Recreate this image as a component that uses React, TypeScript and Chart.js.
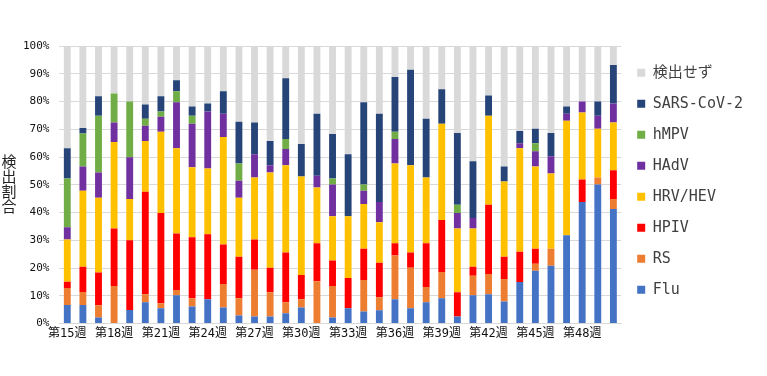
import React, { useEffect, useRef } from 'react';
import { Chart, registerables } from 'chart.js';

Chart.register(...registerables);

const categories = [
  '第15週', '第16週', '第17週', '第18週', '第19週', '第20週', '第21週', '第22週', '第23週',
  '第24週', '第25週', '第26週', '第27週', '第28週', '第29週', '第30週', '第31週', '第32週',
  '第33週', '第34週', '第35週', '第36週', '第37週', '第38週', '第39週', '第40週', '第41週',
  '第42週', '第43週', '第44週', '第45週', '第46週', '第47週', '第48週', '第49週', '第50週',
];

const flu = [6.7, 6.7, 2.2, 0, 4.9, 7.7, 5.5, 10.2, 6.2, 8.8, 5.8, 2.9, 2.6, 2.6, 3.7, 5.8, 0, 2.2, 5.5, 4.4, 4.8, 8.8, 5.5, 7.7, 9.1, 2.6, 10.2, 10.6, 8.0, 15.0, 19.0, 20.8, 31.8, 43.8, 50.1, 41.3];
const rs = [6.1, 4.7, 4.4, 13.5, 0, 2.9, 1.8, 1.9, 2.9, 0, 8.5, 6.2, 16.8, 8.7, 4.0, 3.0, 15.3, 11.3, 0, 11.3, 4.7, 15.7, 14.6, 5.5, 9.5, 0, 7.0, 7.3, 8.1, 0, 2.6, 6.2, 0, 0, 2.5, 3.6];
const hpiv = [2.3, 9.1, 11.8, 20.8, 25.1, 36.9, 32.5, 20.4, 22.0, 23.4, 14.2, 15.0, 10.9, 8.8, 17.9, 8.7, 13.6, 9.2, 10.9, 11.3, 12.4, 4.4, 5.5, 15.7, 18.7, 8.7, 3.3, 24.9, 8.0, 10.9, 5.4, 0, 0, 8.1, 0, 10.3];
const hrvHev = [15.2, 27.4, 26.9, 31.1, 14.9, 18.3, 29.3, 30.7, 25.2, 23.7, 38.7, 21.2, 22.3, 34.3, 31.4, 35.5, 20.1, 16.0, 22.3, 16.1, 14.6, 28.8, 31.4, 23.7, 34.7, 23.0, 13.8, 32.1, 27.1, 37.3, 29.6, 27.1, 41.3, 24.1, 17.6, 17.2];
const hadv = [4.4, 8.7, 9.1, 7.0, 15.0, 5.5, 5.4, 16.5, 15.7, 20.5, 8.4, 6.2, 8.4, 2.6, 5.9, 0, 4.3, 11.4, 0, 4.8, 7.3, 8.8, 0, 0, 0, 5.5, 3.7, 0, 0, 1.8, 5.5, 6.2, 2.5, 4.0, 4.7, 6.9];
const hmpv = [17.6, 11.9, 20.5, 10.5, 20.1, 2.5, 1.9, 4.0, 2.9, 0, 0, 6.2, 0, 0, 3.6, 0, 0, 2.2, 0, 2.2, 0, 2.6, 0, 0, 0, 3.0, 0, 0, 0, 0, 2.9, 0, 0, 0, 0, 0];
const sarsCov2 = [10.9, 2.0, 7.0, 0, 0, 5.1, 5.5, 4.0, 3.3, 2.9, 8.1, 15.0, 11.4, 8.8, 21.9, 11.7, 22.3, 16.0, 22.3, 29.6, 31.8, 19.7, 34.4, 21.2, 12.4, 25.9, 20.5, 7.3, 5.4, 4.4, 5.2, 8.4, 2.6, 0, 5.1, 13.9];
const notDetected = [36.8, 29.5, 18.1, 17.1, 20.0, 21.1, 18.1, 12.3, 21.8, 20.7, 16.3, 27.3, 27.6, 34.2, 11.6, 35.3, 24.4, 31.7, 39.0, 20.3, 24.4, 11.2, 8.6, 26.2, 15.6, 31.3, 41.5, 17.8, 43.4, 30.6, 29.8, 31.3, 21.8, 20.0, 20.0, 6.8];

const seriesNames = ['Flu', 'RS', 'HPIV', 'HRV/HEV', 'HAdV', 'hMPV', 'SARS-CoV-2', '検出せず'];
const seriesColors = ['#4472C4', '#ED7D31', '#FF0000', '#FFC000', '#7030A0', '#70AD47', '#264478', '#D9D9D9'];
const seriesValues = [flu, rs, hpiv, hrvHev, hadv, hmpv, sarsCov2, notDetected];

const yTicks = [0, 10, 20, 30, 40, 50, 60, 70, 80, 90, 100];
const yTitle = '検出割合';

const MONO = '"DejaVu Sans Mono", "Noto Sans CJK JP", monospace';

const yTitlePlugin = {
  id: 'yTitleStacked',
  afterDraw(chart: any) {
    const { ctx, chartArea } = chart;
    ctx.save();
    ctx.font = '15px "Noto Sans CJK JP"';
    ctx.fillStyle = '#222';
    ctx.textAlign = 'center';
    ctx.textBaseline = 'middle';
    const chars = Array.from(yTitle);
    const cy = (chartArea.top + chartArea.bottom) / 2 - 1;
    const step = 15;
    chars.forEach((c, i) => {
      ctx.fillText(c, 9, cy + (i - (chars.length - 1) / 2) * step);
    });
    ctx.restore();
  },
};

export default function App() {
  const ref = useRef<HTMLCanvasElement | null>(null);

  useEffect(() => {
    if (!ref.current) return;
    const chart = new Chart(ref.current, {
      type: 'bar',
      data: {
        labels: categories,
        datasets: seriesNames.map((name, i) => ({
          label: name,
          data: seriesValues[i],
          backgroundColor: seriesColors[i],
          borderWidth: 0,
          barPercentage: 0.44,
          categoryPercentage: 1,
        })),
      },
      options: {
        animation: false,
        responsive: false,
        layout: { padding: { left: 13, right: 14, top: 46, bottom: 32 } },
        plugins: {
          tooltip: { enabled: false },
          legend: {
            position: 'right',
            align: 'start',
            reverse: true,
            title: { display: true, text: ' ', font: { size: 1 }, padding: 1 },
            labels: {
              boxWidth: 8,
              boxHeight: 8,
              padding: 16,
              color: '#404040',
              font: { family: MONO, size: 15 },
            },
          },
        },
        scales: {
          x: {
            stacked: true,
            grid: { display: false, drawTicks: false },
            border: { display: true, color: '#D9D9D9', width: 1 },
            ticks: {
              autoSkip: false,
              maxRotation: 0,
              minRotation: 0,
              padding: 3,
              color: '#111',
              font: { family: MONO, size: 12 },
              callback: (_v: any, i: number) => (i % 3 === 0 ? categories[i] : ''),
            },
          },
          y: {
            stacked: true,
            min: 0,
            max: 100,
            afterBuildTicks: (axis: any) => {
              axis.ticks = yTicks.map((v) => ({ value: v }));
            },
            grid: { color: '#D9D9D9', drawTicks: false },
            border: { display: false },
            ticks: {
              padding: 10,
              color: '#111',
              font: { family: MONO, size: 11 },
              callback: (v: any) => `${v}%`,
            },
          },
        },
      },
      plugins: [yTitlePlugin],
    });
    return () => chart.destroy();
  }, []);

  return (
    <div style={{ position: 'absolute', left: 0, top: 0, width: 767, height: 376, background: '#fff' }}>
      <canvas ref={ref} width={767} height={376} />
    </div>
  );
}
